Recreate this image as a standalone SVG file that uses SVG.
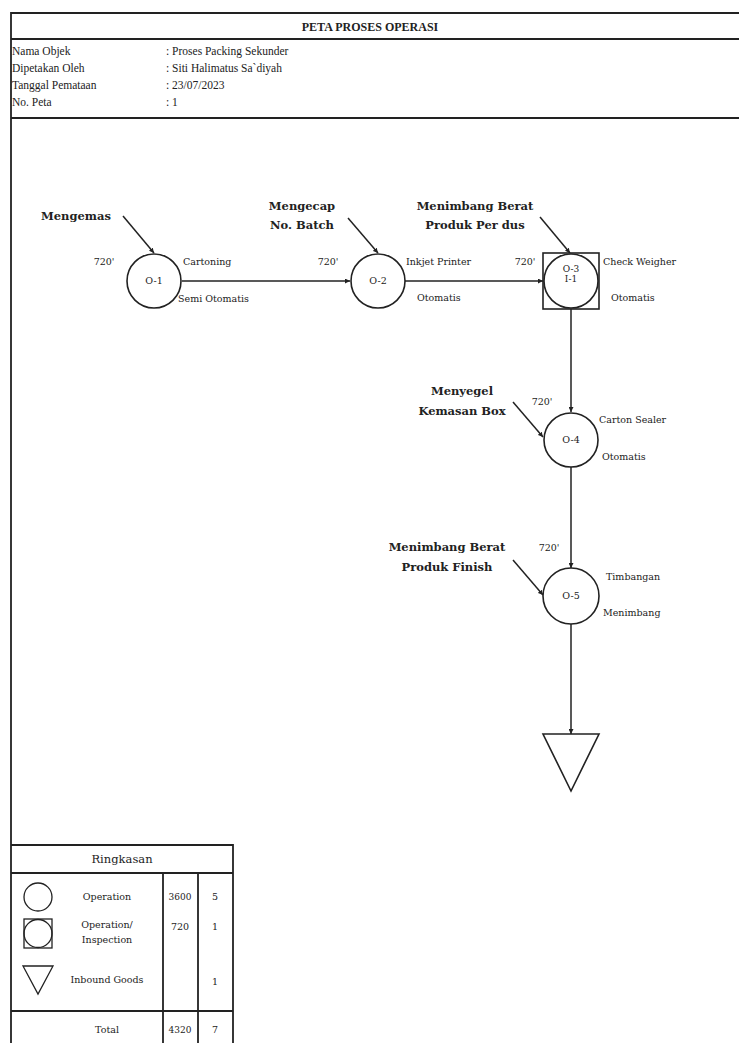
<svg xmlns="http://www.w3.org/2000/svg" width="739" height="1043" viewBox="0 0 739 1043">
<style>
text{font-family:"Liberation Serif","Times New Roman",serif;fill:#222}
.t{font-size:11.5px}
.s{font-family:"DejaVu Serif","Liberation Serif",serif;font-size:9.5px}
.b{font-family:"DejaVu Serif","Liberation Serif",serif;font-size:11.5px;font-weight:bold;text-anchor:middle}
.m{text-anchor:middle}
.frame{fill:none;stroke:#222;stroke-width:1.8}
.sym{fill:#fff;stroke:#222;stroke-width:1.6}
.ln{fill:none;stroke:#222;stroke-width:1.5}
</style>
<defs>
<marker id="ah" viewBox="0 0 10 10" refX="10" refY="5" markerWidth="5" markerHeight="5" orient="auto" markerUnits="userSpaceOnUse"><path d="M0,0L10,5L0,10z" fill="#222"/></marker>
</defs>
<rect width="739" height="1043" fill="#fff"/>
<g id="header">
<path class="frame" d="M11,845V13H745M11,39H745M11,118H745"/>
<text x="370" y="31" class="m" style="font-size:12px;font-weight:bold">PETA PROSES OPERASI</text>
<text x="12" y="55" class="t">Nama Objek</text>
<text x="12" y="72" class="t">Dipetakan Oleh</text>
<text x="12" y="89" class="t">Tanggal  Pemataan</text>
<text x="12" y="106" class="t">No. Peta</text>
<text x="166" y="55" class="t">: Proses Packing Sekunder</text>
<text x="166" y="72" class="t">: Siti Halimatus Sa`diyah</text>
<text x="166" y="89" class="t">: 23/07/2023</text>
<text x="166" y="106" class="t">: 1</text>
</g>
<g id="connectors">
<line class="ln" x1="182" y1="281" x2="350" y2="281" marker-end="url(#ah)"/>
<line class="ln" x1="405" y1="281" x2="543" y2="281" marker-end="url(#ah)"/>
<line class="ln" x1="571" y1="309" x2="571" y2="412" marker-end="url(#ah)"/>
<line class="ln" x1="571" y1="467" x2="571" y2="568" marker-end="url(#ah)"/>
<line class="ln" x1="571" y1="624" x2="571" y2="734" marker-end="url(#ah)"/>
<line class="ln" x1="123" y1="216" x2="154" y2="253" marker-end="url(#ah)"/>
<line class="ln" x1="348" y1="218" x2="378" y2="253" marker-end="url(#ah)"/>
<line class="ln" x1="540" y1="217" x2="570" y2="253" marker-end="url(#ah)"/>
<line class="ln" x1="513" y1="402" x2="543" y2="437" marker-end="url(#ah)"/>
<line class="ln" x1="513" y1="560" x2="543" y2="595" marker-end="url(#ah)"/>
</g>
<g id="O-1">
<circle class="sym" cx="154" cy="281" r="27"/>
<text x="154" y="284" class="s m">O-1</text>
<text x="104" y="265" class="s m">720'</text>
<text x="183" y="265" class="s">Cartoning</text>
<text x="178" y="302" class="s">Semi Otomatis</text>
<text x="76" y="220" class="b">Mengemas</text>
</g>
<g id="O-2">
<circle class="sym" cx="378" cy="281" r="27"/>
<text x="378" y="284" class="s m">O-2</text>
<text x="328" y="265" class="s m">720'</text>
<text x="406" y="265" class="s">Inkjet Printer</text>
<text x="417" y="301" class="s">Otomatis</text>
<text x="302" y="210" class="b">Mengecap</text>
<text x="302" y="229" class="b">No. Batch</text>
</g>
<g id="O-3">
<rect class="sym" x="543" y="253" width="56" height="56"/>
<circle class="sym" cx="571" cy="281" r="27"/>
<text x="571" y="272" class="s m" style="font-size:9px">O-3</text>
<text x="571" y="282" class="s m" style="font-size:9px">I-1</text>
<text x="525" y="265" class="s m">720'</text>
<text x="603" y="265" class="s">Check Weigher</text>
<text x="611" y="301" class="s">Otomatis</text>
<text x="475" y="210" class="b">Menimbang Berat</text>
<text x="475" y="229" class="b">Produk Per dus</text>
</g>
<g id="O-4">
<circle class="sym" cx="571" cy="440" r="27"/>
<text x="571" y="443" class="s m">O-4</text>
<text x="542" y="405" class="s m">720'</text>
<text x="599" y="423" class="s">Carton Sealer</text>
<text x="602" y="460" class="s">Otomatis</text>
<text x="462" y="395" class="b">Menyegel</text>
<text x="462" y="415" class="b">Kemasan Box</text>
</g>
<g id="O-5">
<circle class="sym" cx="571" cy="596" r="28"/>
<text x="571" y="599" class="s m">O-5</text>
<text x="549" y="551" class="s m">720'</text>
<text x="606" y="580" class="s">Timbangan</text>
<text x="603" y="616" class="s">Menimbang</text>
<text x="447" y="551" class="b">Menimbang Berat</text>
<text x="447" y="571" class="b">Produk Finish</text>
</g>
<g id="storage">
<polygon class="sym" points="543,734 599,734 571,791"/>
</g>
<g id="summary">
<path class="frame" d="M11,845H233V1050M11,845V1050M11,873H233M11,1011H233M163,873V1050M198,873V1050"/>
<text x="122" y="863" class="m" style="font-family:'DejaVu Serif','Liberation Serif',serif;font-size:11.5px">Ringkasan</text>
<circle cx="38" cy="897" r="14" fill="none" stroke="#222" stroke-width="1.3"/>
<rect x="24" y="919" width="28" height="29" fill="none" stroke="#222" stroke-width="1.3"/>
<circle cx="38" cy="933.5" r="14" fill="none" stroke="#222" stroke-width="1.3"/>
<polygon points="23,966 53,966 38,994" fill="none" stroke="#222" stroke-width="1.3"/>
<text x="107" y="900" class="s m">Operation</text>
<text x="107" y="928" class="s m">Operation/</text>
<text x="107" y="943" class="s m">Inspection</text>
<text x="107" y="983" class="s m">Inbound Goods</text>
<text x="180" y="900" class="s m" style="font-size:9px">3600</text>
<text x="215" y="900" class="s m">5</text>
<text x="180" y="930" class="s m">720</text>
<text x="215" y="930" class="s m">1</text>
<text x="215" y="985" class="s m">1</text>
<text x="107" y="1033" class="s m">Total</text>
<text x="180" y="1033" class="s m" style="font-size:9px">4320</text>
<text x="215" y="1033" class="s m">7</text>
</g>
</svg>
